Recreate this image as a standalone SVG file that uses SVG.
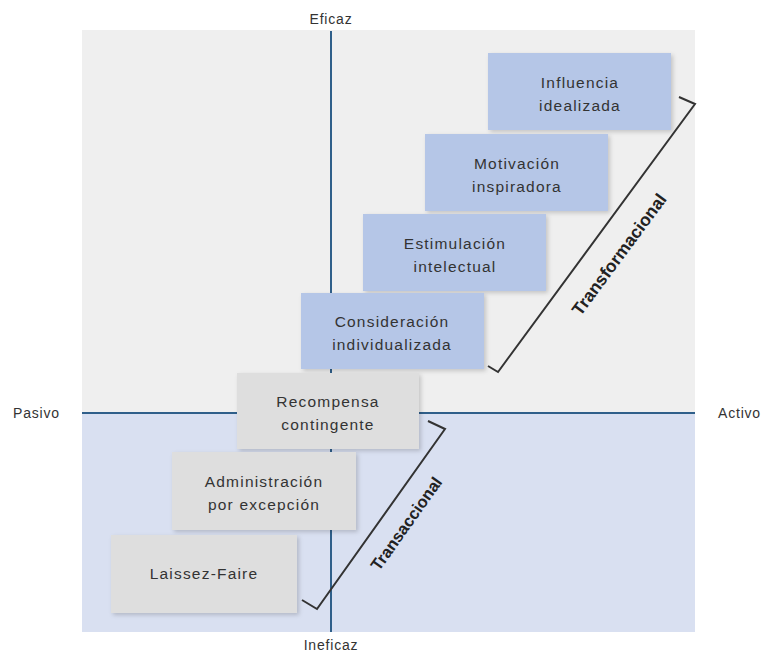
<svg xmlns="http://www.w3.org/2000/svg" width="763" height="655" viewBox="0 0 763 655">
<defs>
<filter id="sh" x="-10%" y="-10%" width="125%" height="130%">
<feDropShadow dx="2" dy="2" stdDeviation="2" flood-color="#000" flood-opacity="0.18"/>
</filter>
</defs>
<style>
.bx{filter:url(#sh)}
.blue{fill:#b5c6e7}
.gray{fill:#dedede}
.t{font-family:"Liberation Sans",Arial,sans-serif;font-size:15.5px;letter-spacing:1.2px;fill:#333;text-anchor:middle}
.ax{font-family:"Liberation Sans",Arial,sans-serif;font-size:14px;letter-spacing:0.8px;fill:#333}
.axl{stroke:#2f5f8a;stroke-width:2;fill:none}
.br{stroke:#333;stroke-width:2;fill:none;stroke-linejoin:miter}
.bt{font-family:"Liberation Sans",Arial,sans-serif;font-weight:bold;fill:#222;text-anchor:middle}
</style>
<rect x="0" y="0" width="763" height="655" fill="#ffffff"/>
<g id="background">
<rect x="82" y="30" width="613" height="383" fill="#efefef"/>
<rect x="82" y="413" width="613" height="219" fill="#d9e0f1"/>
</g>
<g id="axes">
<line class="axl" x1="331" y1="31" x2="331" y2="632"/>
<line class="axl" x1="82" y1="413" x2="695" y2="413"/>
<text class="ax" x="331" y="24" text-anchor="middle">Eficaz</text>
<text class="ax" x="331" y="650" text-anchor="middle">Ineficaz</text>
<text class="ax" x="13" y="418">Pasivo</text>
<text class="ax" x="718" y="418">Activo</text>
</g>
<g id="influencia">
<rect class="bx blue" x="488" y="53" width="183" height="77"/>
<text class="t" x="580" y="88">Influencia</text>
<text class="t" x="580" y="111">idealizada</text>
</g>
<g id="motivacion">
<rect class="bx blue" x="425" y="134" width="183" height="77"/>
<text class="t" x="517" y="169">Motivación</text>
<text class="t" x="517" y="192">inspiradora</text>
</g>
<g id="estimulacion">
<rect class="bx blue" x="363" y="214" width="183" height="77"/>
<text class="t" x="455" y="249">Estimulación</text>
<text class="t" x="455" y="272">intelectual</text>
</g>
<g id="consideracion">
<rect class="bx blue" x="301" y="293" width="183" height="76"/>
<text class="t" x="392" y="327">Consideración</text>
<text class="t" x="392" y="350">individualizada</text>
</g>
<g id="recompensa">
<rect class="bx gray" x="237" y="373" width="182" height="76"/>
<text class="t" x="328" y="407">Recompensa</text>
<text class="t" x="328" y="430">contingente</text>
</g>
<g id="administracion">
<rect class="bx gray" x="172" y="452" width="184" height="78"/>
<text class="t" x="264" y="487">Administración</text>
<text class="t" x="264" y="510">por excepción</text>
</g>
<g id="laissez">
<rect class="bx gray" x="111" y="535" width="186" height="78"/>
<text class="t" x="204" y="579">Laissez-Faire</text>
</g>
<g id="connectors">
<polyline class="br" points="679,97 695,104 498,372 488,366"/>
<polyline class="br" points="428,421 445,429 317,609 302,600"/>
</g>
<g id="labels">
<text class="bt" font-size="17.5" transform="translate(624,258) rotate(-53.5)">Transformacional</text>
<text class="bt" font-size="16.5" transform="translate(411,527) rotate(-54.6)">Transaccional</text>
</g>
</svg>
